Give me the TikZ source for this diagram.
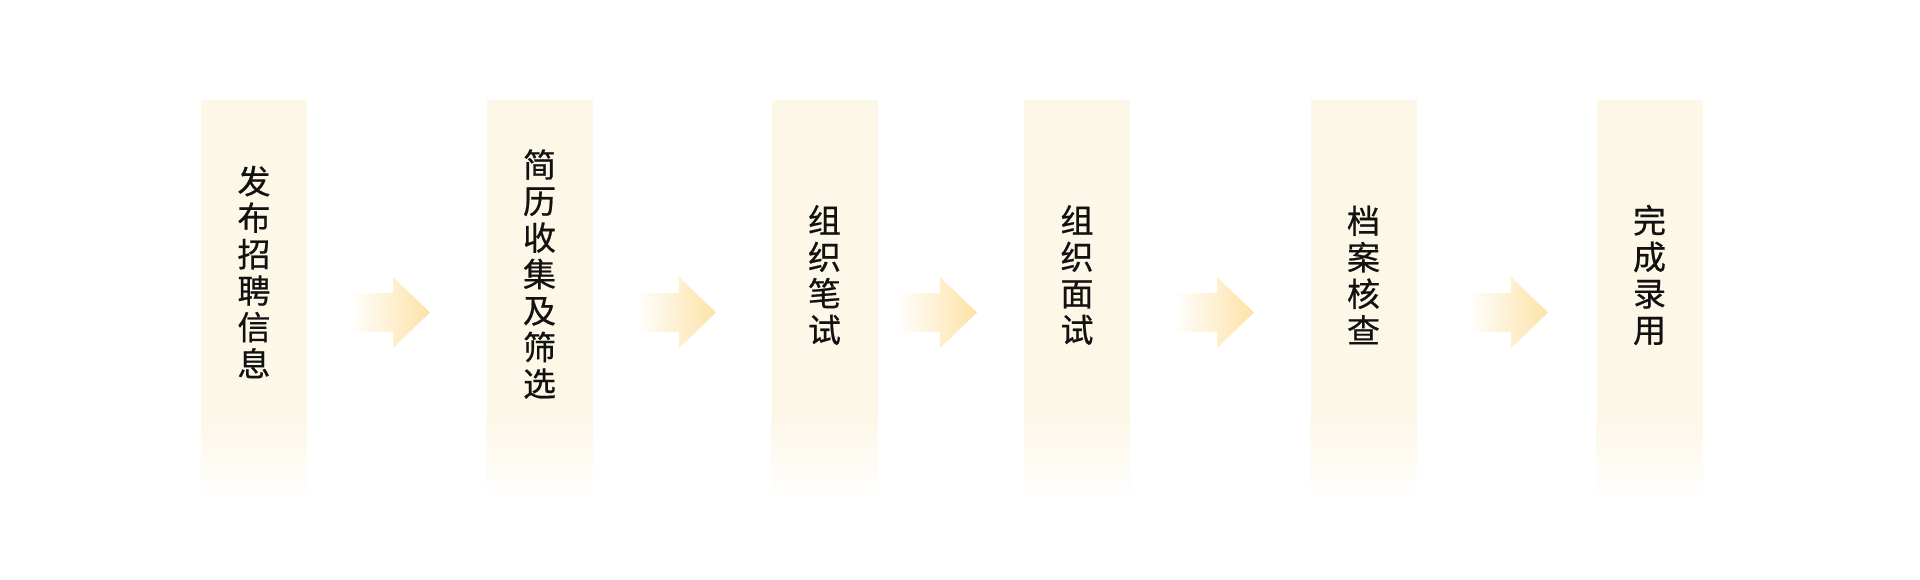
\documentclass[tikz,border=0pt]{standalone}
\usepackage{fontspec}
\newfontfamily\cjk[FakeBold=0.6]{Noto Sans CJK SC}
\definecolor{cream}{HTML}{FDF7E8}
\definecolor{arrowc}{HTML}{FDE2A6}
\definecolor{ink}{HTML}{111111}
\begin{document}
\begin{tikzpicture}[x=1pt,y=1pt,
  stepbox/.style={rectangle, fill=cream, draw=none, inner sep=0pt, minimum width=106pt, minimum height=320pt},
  fadebox/.style={top color=cream, bottom color=white, draw=none},
  steptext/.style={align=center, inner sep=0pt, text=ink, font=\cjk\fontsize{33}{36.5}\selectfont},
  flowarrow/.style={left color=white, right color=arrowc, draw=none}]
\useasboundingbox (0,0) rectangle (1920,-580);
\fill[white] (0,0) rectangle (1920,-580);
% boxes
\node[stepbox] (b1) at (254,-260) {};
\node[stepbox] (b2) at (539.5,-260) {};
\node[stepbox] (b3) at (824.5,-260) {};
\node[stepbox] (b4) at (1077,-260) {};
\node[stepbox] (b5) at (1363.5,-260) {};
\node[stepbox] (b6) at (1649.5,-260) {};
\foreach \b in {b1,b2,b3,b4,b5,b6}{
  \shade[fadebox] (\b.south west) rectangle ([yshift=-80pt]\b.south east);
}
% texts
\node[steptext] (t1) at (254,-272) {发\\布\\招\\聘\\信\\息};
\node[steptext] (t2) at (539.5,-274) {简\\历\\收\\集\\及\\筛\\选};
\node[steptext] (t3) at (824.5,-275) {组\\织\\笔\\试};
\node[steptext] (t4) at (1077,-275) {组\\织\\面\\试};
\node[steptext] (t5) at (1363.5,-275) {档\\案\\核\\查};
\node[steptext] (t6) at (1649.5,-275) {完\\成\\录\\用};
% arrows
\foreach \t in {430,716,977,1254,1548}{
  \shade[flowarrow] (\t-80,-293) -- (\t-37,-293) -- (\t-37,-277) -- (\t,-312.5) -- (\t-37,-348) -- (\t-37,-332) -- (\t-80,-332) -- cycle;
}
\end{tikzpicture}
\end{document}
